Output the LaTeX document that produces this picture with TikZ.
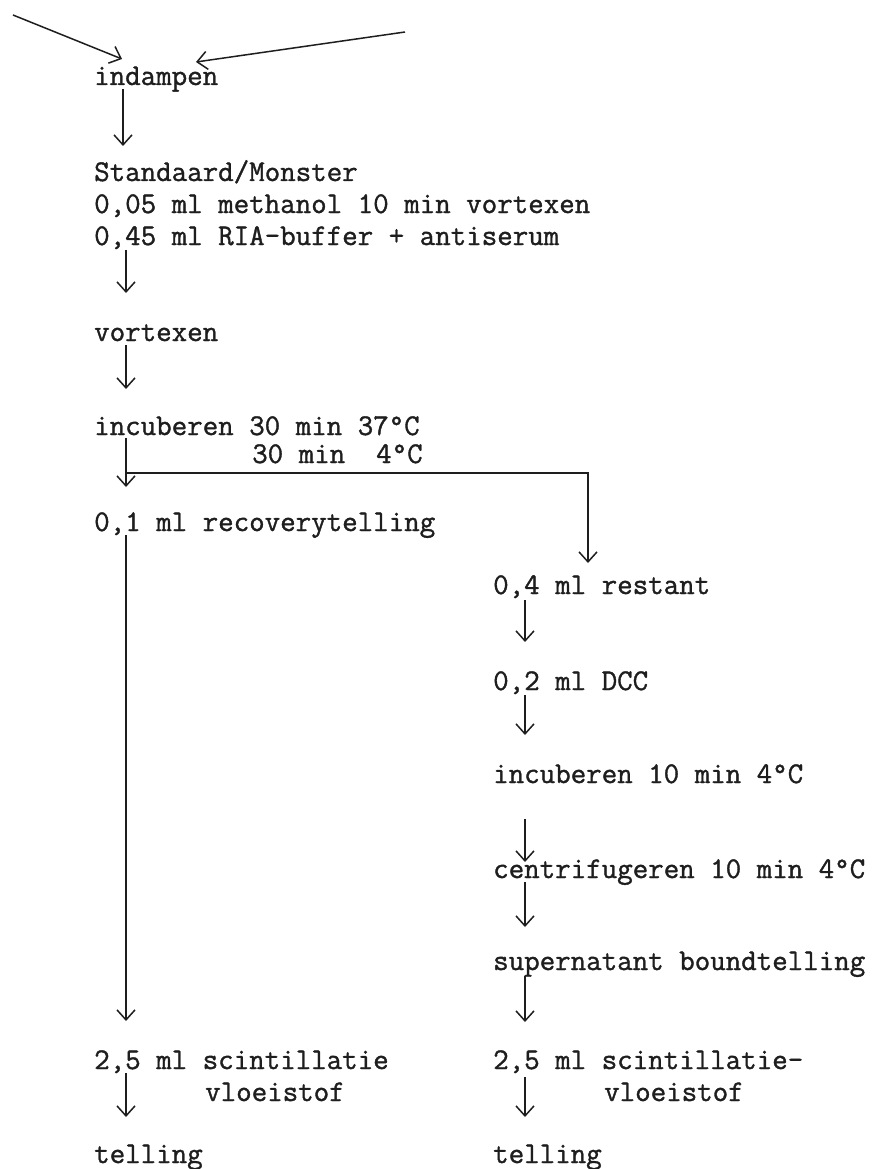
\documentclass[tikz,border=0pt]{standalone}
\usepackage{fontspec}
\newfontfamily\typewr{Latin Modern Mono}[FakeBold=1.2]
\usetikzlibrary{arrows.meta,calc}
\definecolor{ink}{HTML}{1E1E1E}

\begin{document}
\begin{tikzpicture}[
  x=1pt, y=-1pt,
  >={Straight Barb[length=10pt,width=18pt]},
  txt/.style={anchor=base west, inner sep=0pt, text=ink, font=\fontsize{30.1}{36}\selectfont\typewr},
  arr/.style={->, line width=1.5pt, draw=ink},
]
\useasboundingbox (0,0) rectangle (882,1169);

% arrow columns and loose ends
\coordinate (colL) at (126,0);
\coordinate (colR) at (525,0);
\coordinate (colB) at (588,0);
\coordinate (srcA) at (13,15);
\coordinate (srcB) at (405,32);

% left column
\node[txt] (ind) at (94,85) {indampen};
\node[txt] (std) at (94,181) {Standaard/Monster};
\node[txt] (meth) at (94,213) {0,05 ml methanol 10 min vortexen};
\node[txt] (ria) at (94,245) {0,45 ml RIA-buffer + antiserum};
\node[txt] (vort) at (94,341) {vortexen};
\node[txt] (inc1) at (94,435) {incuberen 30 min 37°C};
\node[txt] (inc2) at (252,463) {30 min~~4°C};
\node[txt] (rec) at (94,531) {0,1 ml recoverytelling};
\node[txt] (scL) at (94,1069) {2,5 ml scintillatie};
\node[txt] (vlL) at (205,1101) {vloeistof};
\node[txt] (telL) at (94,1163) {telling};

% right column
\node[txt] (rest) at (493,594) {0,4 ml restant};
\node[txt] (dcc) at (493,690) {0,2 ml DCC};
\node[txt] (inc3) at (493,783) {incuberen 10 min 4°C};
\node[txt] (cent) at (493,878) {centrifugeren 10 min 4°C};
\node[txt] (sup) at (493,970) {supernatant boundtelling};
\node[txt] (scR) at (493,1069) {2,5 ml scintillatie-};
\node[txt] (vlR) at (604,1101) {vloeistof};
\node[txt] (telR) at (493,1163) {telling};

% inflow
\draw[arr] (srcA) -- ($(ind.base west)+(28,-26)$);
\draw[arr] (srcB) -- ($(ind.base west)+(102,-23)$);

% left steps
\draw[arr] ($(ind.base -| colL)+(-3,4)$) -- ($(std.base -| colL)+(-3,-35)$);
\draw[arr] ($(ria.base -| colL)+(0,5)$) -- ($(vort.base -| colL)+(0,-48)$);
\draw[arr] ($(vort.base -| colL)+(0,4)$) -- ($(inc1.base -| colL)+(0,-46)$);
\draw[arr] ($(inc1.base -| colL)+(0,3)$) -- ($(rec.base -| colL)+(0,-44)$);
\draw[arr] ($(inc2.base -| colL)+(1,10)$) -| ($(rest.base -| colB)+(0,-31)$);
\draw[arr] ($(rec.base -| colL)+(0,4)$) -- ($(scL.base -| colL)+(0,-48)$);
\draw[arr] ($(scL.base -| colL)+(0,4)$) -- ($(telL.base -| colL)+(0,-46)$);

% right steps
\draw[arr] ($(rest.base -| colR)+(0,6)$) -- ($(dcc.base -| colR)+(0,-48)$);
\draw[arr] ($(dcc.base -| colR)+(0,5)$) -- ($(inc3.base -| colR)+(0,-48)$);
\draw[arr] ($(inc3.base -| colR)+(0,36)$) -- ($(cent.base -| colR)+(0,-16)$);
\draw[arr] ($(cent.base -| colR)+(0,4)$) -- ($(sup.base -| colR)+(0,-43)$);
\draw[arr] ($(sup.base -| colR)+(0,6)$) -- ($(scR.base -| colR)+(0,-47)$);
\draw[arr] ($(scR.base -| colR)+(0,8)$) -- ($(telR.base -| colR)+(0,-46)$);

\end{tikzpicture}
\end{document}
